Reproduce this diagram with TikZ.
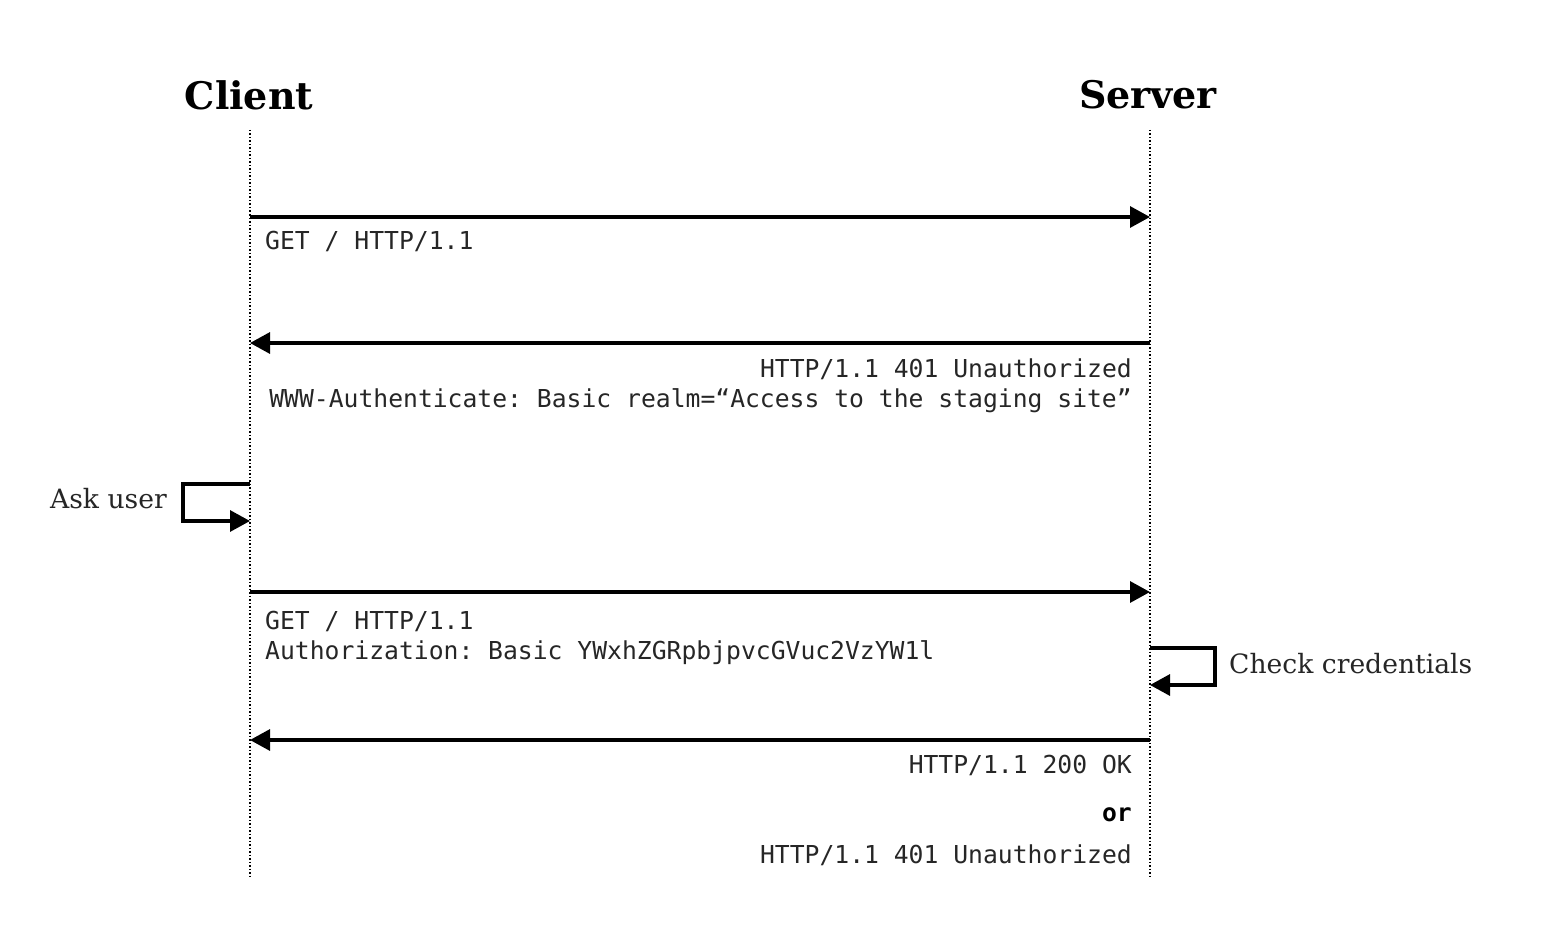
\documentclass[tikz,border=0pt]{standalone}
\usepackage{fontspec}
\setmainfont{DejaVu Serif}
\setmonofont{DejaVu Sans Mono}
\usetikzlibrary{arrows.meta}
\definecolor{txt}{HTML}{262626}
\tikzset{
  head/.style={font=\bfseries\fontsize{38}{42}\selectfont, text=black, inner sep=0pt},
  life/.style={line width=1.2pt, dash pattern=on 1.5pt off 2pt},
  msg/.style={line width=3.2pt, -{Triangle[length=20pt,width=21pt]}},
  lbl/.style={font=\ttfamily\fontsize{24.7}{28}\selectfont, text=txt, inner sep=0pt},
  note/.style={font=\fontsize{26.6}{30}\selectfont, text=txt, inner sep=0pt},
}
\begin{document}
\begin{tikzpicture}[x=1pt,y=-1pt]
\useasboundingbox (0,0) rectangle (1568,936);
% heads
\node[head] (client) at (249,95) {Client};
\node[head] (server) at (1148,95) {Server};
% lifelines
\coordinate (cTop) at (250,130);
\coordinate (cBot) at (250,878);
\coordinate (sTop) at (1150,130);
\coordinate (sBot) at (1150,878);
\draw[life] (cTop) -- (cBot);
\draw[life] (sTop) -- (sBot);
% message 1
\coordinate (c1) at (250,217);
\coordinate (s1) at (1150,217);
\draw[msg] (c1) -- (s1);
\node[lbl, anchor=west] (m1) at (265,241) {GET / HTTP/1.1};
% message 2
\coordinate (c2) at (250,343);
\coordinate (s2) at (1150,343);
\draw[msg] (s2) -- (c2);
\node[lbl, anchor=east] (m2a) at (1132,369) {HTTP/1.1 401 Unauthorized};
\node[lbl, anchor=east] (m2b) at (1132,401) {WWW-Authenticate: Basic realm=“Access to the staging site”};
% ask user
\coordinate (a1) at (250,484);
\coordinate (a2) at (250,521);
\draw[msg] (a1) -- (183,484) -- (183,521) -- (a2);
\node[note, anchor=east] (ask) at (167,499) {Ask user};
% message 3
\coordinate (c3) at (250,592);
\coordinate (s3) at (1150,592);
\draw[msg] (c3) -- (s3);
\node[lbl, anchor=west] (m3a) at (265,621) {GET / HTTP/1.1};
\node[lbl, anchor=west] (m3b) at (265,653) {Authorization: Basic YWxhZGRpbjpvcGVuc2VzYW1l};
% check credentials
\coordinate (k1) at (1150,648);
\coordinate (k2) at (1150,685);
\draw[msg] (k1) -- (1215,648) -- (1215,685) -- (k2);
\node[note, anchor=west] (chk) at (1229,664) {Check credentials};
% message 4
\coordinate (c4) at (250,740);
\coordinate (s4) at (1150,740);
\draw[msg] (s4) -- (c4);
\node[lbl, anchor=east] (m4a) at (1132,765) {HTTP/1.1 200 OK};
\node[lbl, anchor=east, font=\ttfamily\bfseries\fontsize{24.7}{28}\selectfont, text=black] (or) at (1132,815) {or};
\node[lbl, anchor=east] (m4b) at (1132,855) {HTTP/1.1 401 Unauthorized};
\end{tikzpicture}
\end{document}
